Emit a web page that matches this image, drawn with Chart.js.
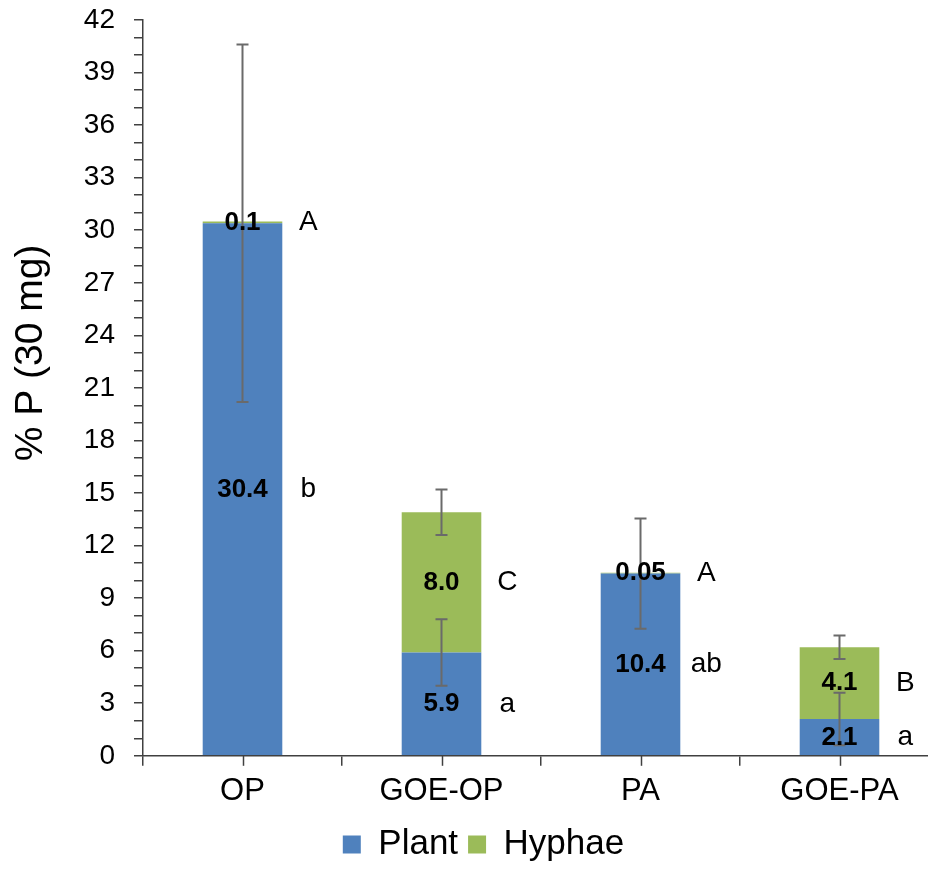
<!DOCTYPE html>
<html>
<head>
<meta charset="utf-8">
<script src="https://cdn.jsdelivr.net/npm/chart.js@4"></script>
<style>
  html, body { margin: 0; padding: 0; background: #fff; overflow: hidden; }
</style>
</head>
<body>
<canvas id="pChart" width="940" height="872"></canvas>
<script>
const categories = ["OP", "GOE-OP", "PA", "GOE-PA"];
const plantValues = [30.4, 5.9, 10.4, 2.1];
const hyphaeValues = [0.1, 8.0, 0.05, 4.1];
const plantErrors = [10.2, 1.9, 3.15, 1.5];
const hyphaeErrors = [0, 1.3, 0, 0.67];
const plantLetters = ["b", "a", "ab", "a"];
const hyphaeLetters = ["A", "C", "A", "B"];
const yMin = 0;
const yMax = 42;
const yLabelStep = 3;

const FONT = "'Liberation Sans', Arial, sans-serif";

function fmt(v) {
  return v < 0.1 ? v.toFixed(2) : v.toFixed(1);
}

// error bars, value labels and letters drawn over the bars
const annotations = {
  id: "annotations",
  afterDatasetsDraw(chart) {
    const ctx = chart.ctx;
    const xs = chart.scales.x;
    const ys = chart.scales.y;
    const meta = chart.getDatasetMeta(0);

    ctx.save();
    ctx.strokeStyle = "#6a6a6a";
    ctx.lineWidth = 2;
    const drawErr = (cx, v, e) => {
      if (!e) return;
      const top = ys.getPixelForValue(v + e);
      const bot = ys.getPixelForValue(v - e);
      ctx.beginPath();
      ctx.moveTo(cx, top);
      ctx.lineTo(cx, bot);
      ctx.moveTo(cx - 6, top);
      ctx.lineTo(cx + 6, top);
      ctx.moveTo(cx - 6, bot);
      ctx.lineTo(cx + 6, bot);
      ctx.stroke();
    };
    categories.forEach((c, i) => {
      const cx = xs.getPixelForValue(i);
      drawErr(cx, plantValues[i], plantErrors[i]);
      drawErr(cx, plantValues[i] + hyphaeValues[i], hyphaeErrors[i]);
    });

    ctx.fillStyle = "#000";
    ctx.textBaseline = "middle";
    categories.forEach((c, i) => {
      const cx = xs.getPixelForValue(i);
      const bar = meta.data[i];
      const right = cx + bar.width / 2;
      const yP = ys.getPixelForValue(plantValues[i] / 2);
      const yH = ys.getPixelForValue(plantValues[i] + hyphaeValues[i] / 2);

      ctx.font = "bold 26px " + FONT;
      ctx.textAlign = "center";
      ctx.fillText(fmt(plantValues[i]), cx, yP);
      ctx.fillText(fmt(hyphaeValues[i]), cx, yH);

      ctx.font = "28px " + FONT;
      ctx.fillText(plantLetters[i], right + 26, yP);
      ctx.fillText(hyphaeLetters[i], right + 26, yH);
    });
    ctx.restore();
  },
  afterDraw(chart) {
    const ctx = chart.ctx;
    const xs = chart.scales.x;
    ctx.save();
    // tick marks at the category centres
    ctx.strokeStyle = "#404040";
    ctx.lineWidth = 1.5;
    categories.forEach((c, i) => {
      const cx = Math.round(xs.getPixelForValue(i)) + 0.5;
      ctx.beginPath();
      ctx.moveTo(cx, xs.top);
      ctx.lineTo(cx, xs.top + 10);
      ctx.stroke();
    });
    // y axis title
    ctx.fillStyle = "#000";
    ctx.font = "39px " + FONT;
    ctx.textAlign = "center";
    ctx.textBaseline = "middle";
    ctx.translate(31, 353);
    ctx.rotate(-Math.PI / 2);
    ctx.fillText("% P (30 mg)", 0, 0);
    ctx.restore();
  }
};

const ctx = document.getElementById("pChart").getContext("2d");
new Chart(ctx, {
  type: "bar",
  data: {
    labels: categories,
    datasets: [
      {
        label: "Plant",
        data: plantValues,
        backgroundColor: "#4F81BD",
        barPercentage: 0.4,
        categoryPercentage: 1
      },
      {
        label: "Hyphae",
        data: hyphaeValues,
        backgroundColor: "#9BBB59",
        barPercentage: 0.4,
        categoryPercentage: 1
      }
    ]
  },
  options: {
    responsive: false,
    animation: false,
    layout: { padding: { left: 28, top: 20, right: 1, bottom: 0 } },
    plugins: {
      tooltip: { enabled: false },
      legend: {
        position: "bottom",
        labels: {
          color: "#000",
          font: { family: FONT, size: 35 },
          boxWidth: 18,
          boxHeight: 18,
          padding: 10
        }
      }
    },
    scales: {
      x: {
        stacked: true,
        border: { color: "#404040", width: 1.5 },
        grid: { display: true, drawOnChartArea: false, tickLength: 10, color: "#404040", lineWidth: 1.5 },
        ticks: { color: "#000", font: { family: FONT, size: 31 }, padding: 7 }
      },
      y: {
        stacked: true,
        min: yMin,
        max: yMax,
        afterFit(scale) {
          scale.width = 115;
          scale.paddingTop = 0;
          scale.paddingBottom = 0;
        },
        border: { color: "#404040", width: 1.5 },
        grid: { drawOnChartArea: false, tickLength: 9, color: "#404040", lineWidth: 1.5 },
        ticks: {
          stepSize: 1,
          autoSkip: false,
          color: "#000",
          padding: 19,
          font: { family: FONT, size: 28 },
          callback: (v) => (v % yLabelStep === 0 ? String(v) : "")
        }
      }
    }
  },
  plugins: [annotations]
});
</script>
</body>
</html>
